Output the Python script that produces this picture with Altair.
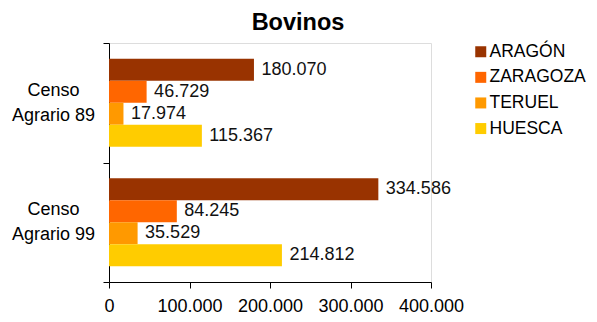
import altair as alt
import pandas as pd

censos = ["Censo\nAgrario 89", "Censo\nAgrario 99"]
regiones = ["ARAGÓN", "ZARAGOZA", "TERUEL", "HUESCA"]
colores = ["#993300", "#FF6600", "#FF9900", "#FFCC00"]
valores_89 = [180070, 46729, 17974, 115367]
valores_99 = [334586, 84245, 35529, 214812]
x_ticks = [0, 100000, 200000, 300000, 400000]

rows = []
for censo, vals in zip(censos, [valores_89, valores_99]):
    for reg, v in zip(regiones, vals):
        rows.append({"censo": censo, "region": reg, "valor": v,
                     "etiqueta": f"{v:,}".replace(",", ".")})
df = pd.DataFrame(rows)

FONT = "Liberation Sans"

y_enc = alt.Y("censo:N", sort=censos, title=None,
              scale=alt.Scale(paddingInner=0, paddingOuter=0),
              axis=alt.Axis(labelExpr="split(datum.label, '\\n')", labelAlign="center",
                            labelBaseline="middle", labelPadding=50, labelLineHeight=25,
                            labelOffset=-12.5,
                            labelFontSize=18, labelFont=FONT, labelColor="#000",
                            tickBand="extent", tickSize=6, tickColor="#000",
                            domainColor="#000", grid=False))
yoff = alt.YOffset("region:N", sort=regiones,
                   scale=alt.Scale(paddingInner=0, paddingOuter=0.72))
x_enc = alt.X("valor:Q", title=None,
              scale=alt.Scale(domain=[0, 400000], nice=False),
              axis=alt.Axis(values=x_ticks, labelExpr="replace(format(datum.value, ','), ',', '.')",
                            labelFontSize=18, labelFont=FONT, labelColor="#000",
                            labelOverlap=False, labelFlush=False,
                            tickSize=6, tickColor="#000", domainColor="#000",
                            labelPadding=9, grid=False))

base = alt.Chart(df)
bars = base.mark_bar().encode(
    x=x_enc, y=y_enc, yOffset=yoff,
    color=alt.Color("region:N", sort=regiones,
                    scale=alt.Scale(domain=regiones, range=colores),
                    legend=alt.Legend(title=None, orient="none", legendX=363, legendY=0,
                                      symbolType="square", symbolSize=121, symbolStrokeWidth=0,
                                      labelFontSize=17.5, labelFont=FONT, labelColor="#000",
                                      labelOffset=0, rowPadding=6.6, padding=0))
)
texts = base.mark_text(align="left", baseline="middle", dx=7.5, fontSize=18,
                       font=FONT, color="#111").encode(
    x="valor:Q", y=alt.Y("censo:N", sort=censos), yOffset=yoff, text="etiqueta:N"
)

chart = (bars + texts).properties(
    width=322, height=239,
    title=alt.TitleParams("Bovinos", fontSize=23.5, font=FONT, fontWeight="bold",
                          color="#000", anchor="middle", dx=28, offset=0),
    autosize=alt.AutoSizeParams(type="none"),
    padding={"left": 101, "top": 35, "right": 158, "bottom": 32},
).configure_view(stroke=None).configure(background="white")

chart.save("out.html", embed_options={"renderer": "svg", "actions": False})
